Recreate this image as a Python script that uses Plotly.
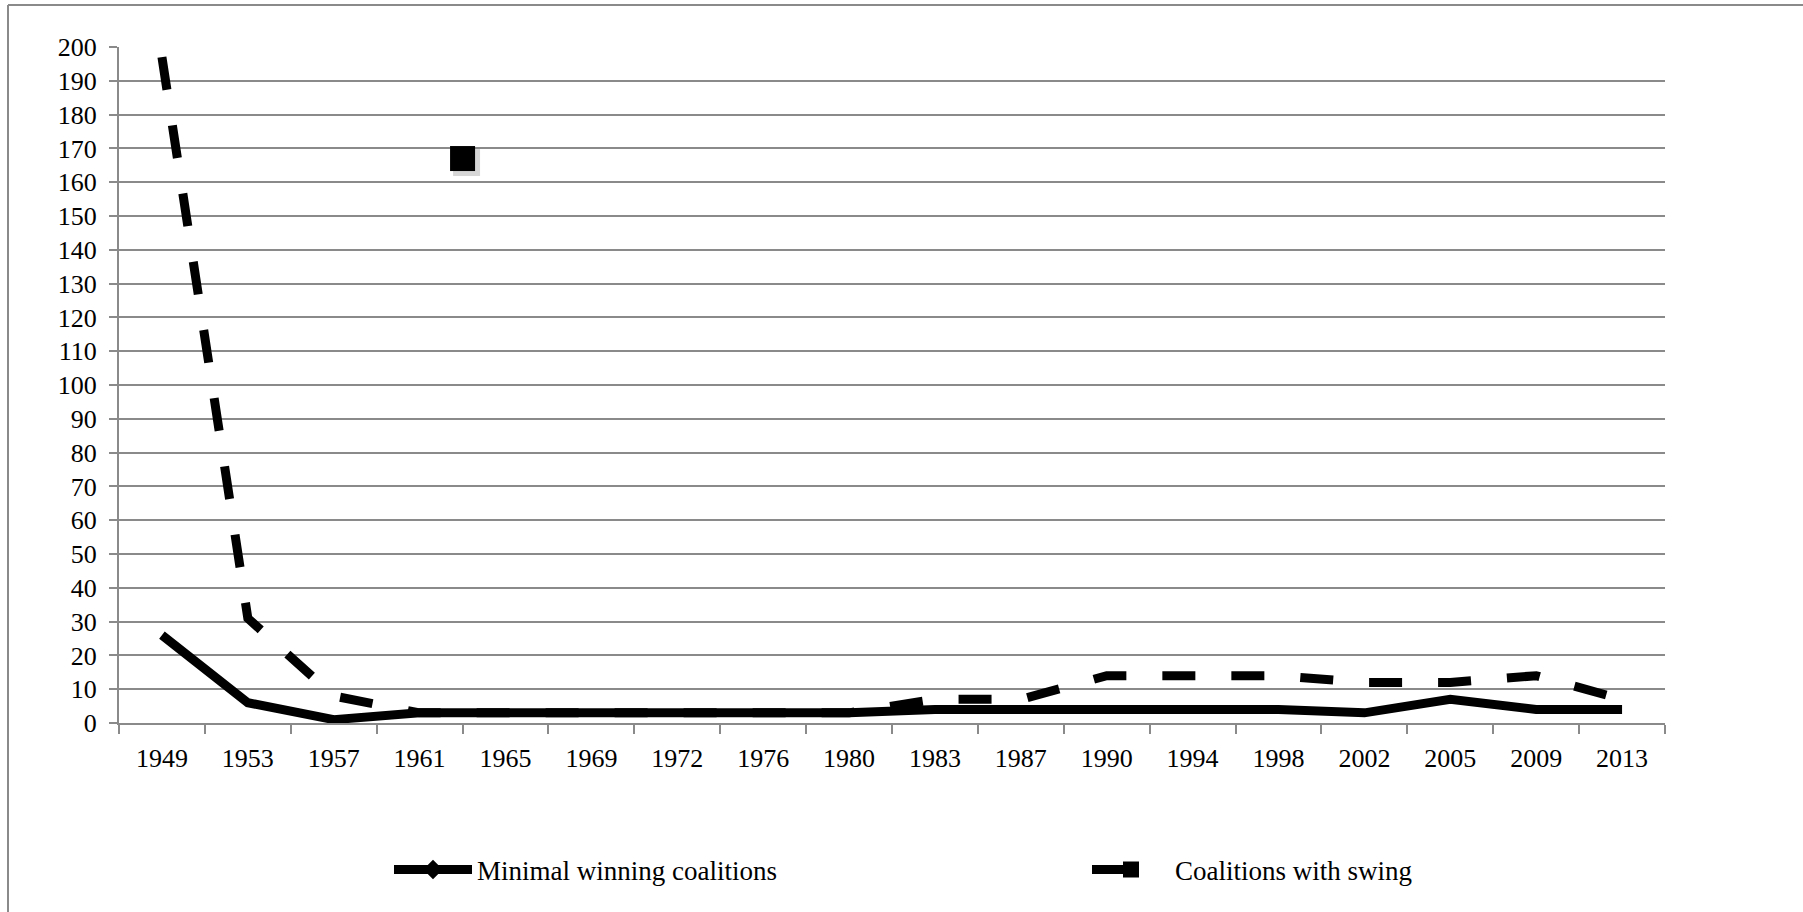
import plotly.graph_objects as go

# Election years and the two coalition counts per election
years = ["1949", "1953", "1957", "1961", "1965", "1969", "1972", "1976", "1980",
         "1983", "1987", "1990", "1994", "1998", "2002", "2005", "2009", "2013"]
minimal_winning = [26, 6, 1, 3, 3, 3, 3, 3, 3, 4, 4, 4, 4, 4, 3, 7, 4, 4]
with_swing = [197, 31, 8, 3, 3, 3, 3, 3, 3, 7, 7, 14, 14, 14, 12, 12, 14, 7]

# A lone swing observation placed between two election years
swing_outlier_between = ("1961", "1965")
swing_outlier_value = [167]

y_ticks = list(range(0, 201, 10))

# ---- layout geometry (pixels) ----
W, H = 1803, 912
L, R, T, B = 119, 138, 47, 189
PW, PH = W - L - R, H - T - B
GRID = "#8a8a8a"
FONT = "Liberation Serif"


def paper_x(px):
    return (px - L) / PW


def paper_y(py):
    return (H - B - py) / PH


idx = list(range(len(years)))
x_lo, x_hi = -0.5, len(years) - 0.5
outlier_x = [(years.index(swing_outlier_between[0]) + years.index(swing_outlier_between[1])) / 2]

DASH = "33px,36px"
LEGEND_DASH = "37px,60px"

fig = go.Figure()

# Data lines
fig.add_trace(go.Scatter(
    x=idx, y=minimal_winning, mode="lines", showlegend=False,
    line=dict(color="black", width=9),
))
fig.add_trace(go.Scatter(
    x=idx, y=with_swing, mode="lines", showlegend=False,
    line=dict(color="black", width=9, dash=DASH),
))

# Drop shadow of the lone marker (drawn on a slightly offset pair of axes)
sx = 4 * (x_hi - x_lo) / PW
sy = 4 * 200 / PH
fig.add_trace(go.Scatter(
    x=outlier_x, y=swing_outlier_value, mode="markers", showlegend=False,
    xaxis="x2", yaxis="y2",
    marker=dict(symbol="square", size=27, color="rgba(0,0,0,0.16)"),
))
fig.add_trace(go.Scatter(
    x=outlier_x, y=swing_outlier_value, mode="markers", showlegend=False,
    marker=dict(symbol="square", size=25, color="black"),
))

# Legend entries
fig.add_trace(go.Scatter(
    x=[None], y=[None], mode="lines+markers", name="Minimal winning coalitions",
    line=dict(color="black", width=9),
    marker=dict(symbol="diamond", size=15, color="black"),
))
fig.add_trace(go.Scatter(
    x=[None], y=[None], mode="lines+markers", name="Coalitions with swing",
    line=dict(color="black", width=9, dash=LEGEND_DASH),
    marker=dict(symbol="square", size=16, color="black"),
))

axis_font = dict(family=FONT, size=26, color="black")

fig.update_layout(
    width=W, height=H, autosize=False,
    margin=dict(l=L, r=R, t=T, b=B, pad=0, autoexpand=False),
    paper_bgcolor="white", plot_bgcolor="white",
    font=dict(family=FONT, size=26, color="black"),
    xaxis=dict(
        range=[x_lo, x_hi], tickmode="array", tickvals=idx, ticktext=years,
        ticks="", showgrid=False, zeroline=False,
        showline=True, linecolor=GRID, linewidth=2,
        tickfont=axis_font, ticklabelstandoff=11,
        minor=dict(ticks="outside", ticklen=9, tickwidth=2, tickcolor=GRID,
                   tickmode="linear", tick0=x_lo, dtick=1, showgrid=False),
    ),
    yaxis=dict(
        range=[0, 200], tickmode="array", tickvals=y_ticks,
        ticks="outside", ticklen=8, tickwidth=2, tickcolor=GRID,
        showgrid=True, gridcolor=GRID, gridwidth=2, zeroline=False,
        showline=True, linecolor=GRID, linewidth=2,
        tickfont=axis_font, ticklabelstandoff=7,
    ),
    xaxis2=dict(range=[x_lo - sx, x_hi - sx], overlaying="x", visible=False),
    yaxis2=dict(range=[sy, 200 + sy], overlaying="y", visible=False),
    legend=dict(
        orientation="h", x=paper_x(389), xanchor="left",
        y=paper_y(870), yanchor="middle",
        itemwidth=78, entrywidth=605, entrywidthmode="pixels",
        font=dict(family=FONT, size=27, color="black"),
        bgcolor="rgba(0,0,0,0)",
    ),
    shapes=[
        dict(type="line", xref="paper", yref="paper",
             x0=paper_x(8), x1=paper_x(W + 5), y0=paper_y(5), y1=paper_y(5),
             line=dict(color=GRID, width=2)),
        dict(type="line", xref="paper", yref="paper",
             x0=paper_x(8), x1=paper_x(8), y0=paper_y(5), y1=paper_y(H + 5),
             line=dict(color=GRID, width=2)),
    ],
)

fig.write_html("out.html")
